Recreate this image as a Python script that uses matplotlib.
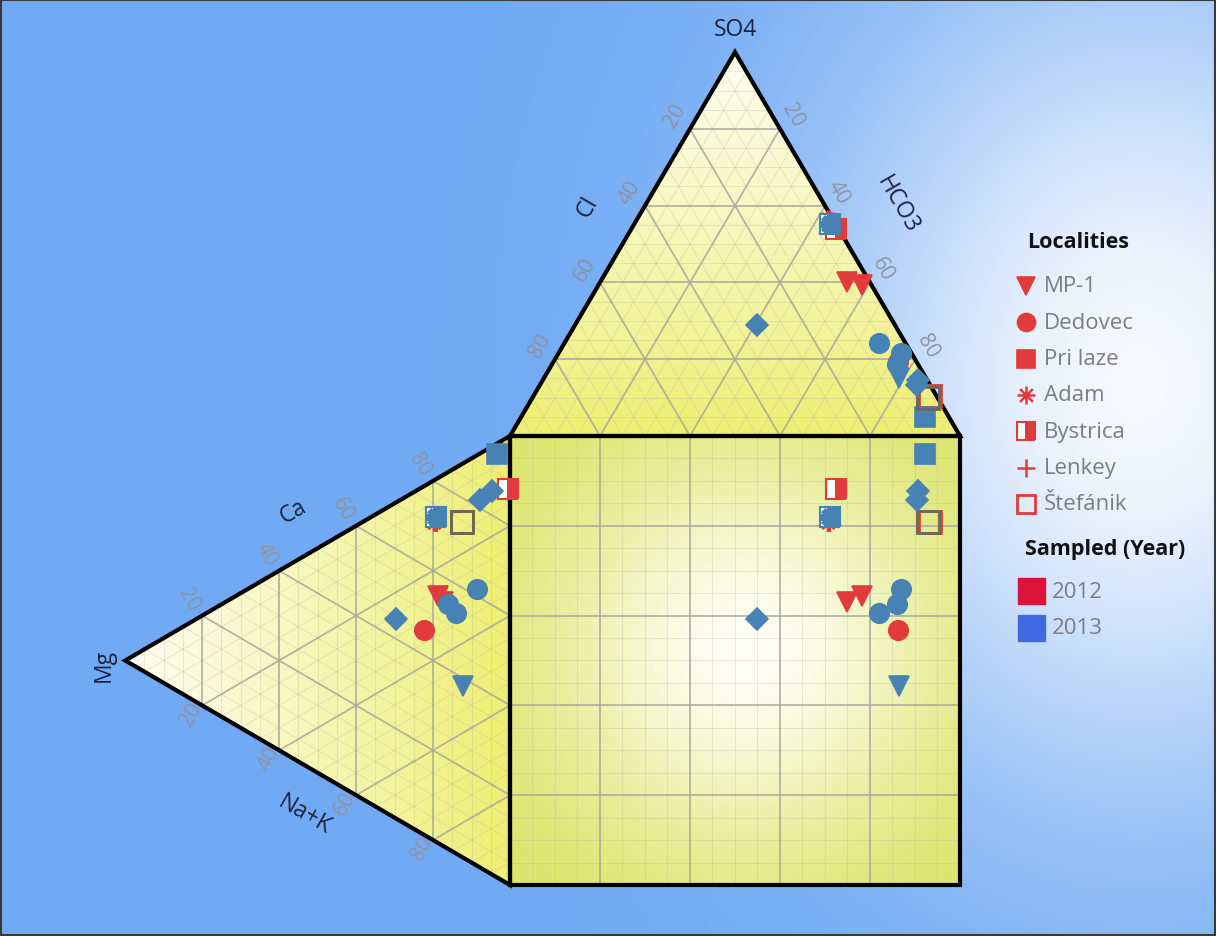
import numpy as np
import matplotlib
matplotlib.use("Agg")
import matplotlib.pyplot as plt
from matplotlib.patches import Polygon, Rectangle
from matplotlib.path import Path

plt.rcParams['font.family'] = ['Open Sans', 'DejaVu Sans']

# ---------------- sample data (meq %) ----------------
locality = ["MP-1", "MP-1", "Dedovec", "Adam", "Lenkey", "Bystrica", "Štefánik",
            "MP-1", "Dedovec", "Dedovec", "Dedovec", "Pri laze", "Bystrica", "Adam",
            "Lenkey", "Štefánik", "Other", "Other", "Other"]
year = [2012, 2012, 2012, 2012, 2012, 2012, 2012,
        2013, 2013, 2013, 2013, 2013, 2013, 2013, 2013, 2013, 2013, 2013, 2013]
so4 = [40.1, 39.4, 19.3, 56.6, 56.0, 53.8, 10.4,
       15.2, 21.6, 18.8, 24.2, 4.9, 55.3, 55.3, 55.3, 10.0, 14.7, 13.2, 28.8]
cl = [5.1, 2.1, 4.1, 1.0, 1.2, 0.7, 1.5,
      6.0, 2.3, 4.6, 5.9, 5.3, 1.3, 1.3, 1.3, 2.1, 2.0, 3.0, 30.7]
hco3 = [54.8, 58.5, 76.6, 42.4, 42.8, 45.5, 88.1,
        78.8, 76.1, 76.6, 69.9, 89.8, 43.4, 43.4, 43.4, 87.9, 83.3, 83.8, 40.5]
ca = [54.3, 55.0, 45.6, 70.9, 71.2, 87.9, 74.5,
      38.3, 61.6, 54.5, 53.5, 94.3, 72.4, 72.4, 72.4, 74.5, 85.5, 81.9, 44.5]
mg = [17.4, 18.7, 22.3, 19.8, 19.2, 0.5, 12.6,
      12.1, 8.7, 16.2, 14.1, 3.3, 19.2, 19.2, 19.2, 12.6, 4.6, 7.7, 29.5]
nak = [28.3, 26.3, 32.1, 9.3, 9.6, 11.6, 12.9,
       49.6, 29.7, 29.3, 32.4, 2.4, 8.4, 8.4, 8.4, 12.9, 9.9, 10.4, 26.0]

legend_localities = ["MP-1", "Dedovec", "Pri laze", "Adam", "Bystrica", "Lenkey", "Štefánik"]
years = [2012, 2013]
year_swatch = {2012: "#DC143C", 2013: "#4169E1"}

RED = "#E23B3B"
BLUE = "#4682B4"
OPEN_2013 = "#6a6956"
year_color = {2012: RED, 2013: BLUE}

H = 0.855  # triangle height relative to side

# 8-armed asterisk marker
_ang = np.deg2rad([0, 45, 90, 135])
_verts, _codes = [], []
for a in _ang:
    _verts += [(-np.cos(a), -np.sin(a)), (np.cos(a), np.sin(a))]
    _codes += [Path.MOVETO, Path.LINETO]
ASTERISK = Path(_verts, _codes)

styles = {
    "MP-1": dict(marker="v", ms=14),
    "Dedovec": dict(marker="o", ms=14),
    "Pri laze": dict(marker="s", ms=15),
    "Adam": dict(marker=ASTERISK, ms=13, mew=2.5, fillstyle="none"),
    "Bystrica": dict(marker="s", ms=15, fillstyle="right", mfcalt="white", mew=1.5),
    "Lenkey": dict(marker="+", ms=15, mew=3),
    "Štefánik": dict(marker="s", ms=16, fillstyle="none", mew=2),
    "Other": dict(marker="D", ms=11),
}
# 2013 overlays at the Bystrica spot are drawn heavier
heavy_2013 = {"Adam": dict(ms=15, mew=4.5), "Lenkey": dict(ms=15, mew=5)}


def anion_xy(s, c, h):
    s, c, h = map(np.asarray, (s, c, h))
    tot = s + c + h
    s, h = s / tot * 100, h / tot * 100
    return 0.5 * s + h, 100 + H * s


def cation_xy(a, m, n):
    a, m, n = map(np.asarray, (a, m, n))
    tot = a + m + n
    a, m = a / tot * 100, m / tot * 100
    return -H * m, 0.5 * m + a


# ---------------- figure ----------------
W, Hpx = 1216, 937
fig = plt.figure(figsize=(W / 100, Hpx / 100), dpi=100)
ax = fig.add_axes([0, 0, 1, 1])
XL = (-113.33, 156.89)
YL = (-11.36, 197.33)
ax.set_xlim(*XL)
ax.set_ylim(*YL)
ax.axis("off")

# background: blue with a pale glow on the right
gx = np.linspace(*XL, 600)
gy = np.linspace(*YL, 460)
GX, GY = np.meshgrid(gx, gy)
blue = np.array([112, 170, 244]) / 255
white = np.array([246, 249, 254]) / 255
d2 = ((GX - 140) / 74) ** 2 + ((GY - 112) / 95) ** 2
w = np.exp(-d2)[..., None]
bg = blue * (1 - w) + white * w
ax.imshow(bg, extent=(*XL, *YL), origin="lower", zorder=0, aspect="auto")

# triangle and square outlines
top_tri = np.array([[0, 100], [100, 100], [50, 100 + 100 * H]])
left_tri = np.array([[0, 100], [0, 0], [-100 * H, 50]])
square = np.array([[0, 0], [100, 0], [100, 100], [0, 100]])

yellow = np.array([238, 238, 112]) / 255
pale = np.array([253, 253, 242]) / 255
edge_sq = np.array([218, 227, 98]) / 255

# top triangle fill: pale at apex, yellow at base
t = np.clip((GY - 100) / (100 * H), 0, 1)[..., None] ** 0.9
img = yellow * (1 - t) + pale * t
im = ax.imshow(img, extent=(*XL, *YL), origin="lower", zorder=1, aspect="auto")
im.set_clip_path(Polygon(top_tri, closed=True, transform=ax.transData))

# left triangle fill: pale at the Mg corner
t = np.clip(-GX / (100 * H), 0, 1)[..., None] ** 0.9
img = yellow * (1 - t) + pale * t
im = ax.imshow(img, extent=(*XL, *YL), origin="lower", zorder=1, aspect="auto")
im.set_clip_path(Polygon(left_tri, closed=True, transform=ax.transData))

# square fill: radial glow
r2 = ((GX - 53) ** 2 + (GY - 52) ** 2) / 44 ** 2
t = np.exp(-r2)[..., None]
img = edge_sq * (1 - t) + np.array([255, 255, 246]) / 255 * t
im = ax.imshow(img, extent=(*XL, *YL), origin="lower", zorder=1, aspect="auto")
im.set_clip_path(Polygon(square, closed=True, transform=ax.transData))

MAJ = dict(color="#a9a99a", lw=1.3, zorder=2, alpha=0.85)
MIN = dict(color="#b8b8a0", lw=0.6, zorder=2, alpha=0.35)


def tri_lines(conv, step, kw):
    for v in np.arange(step, 100, step):
        if kw is MIN and v % 20 == 0:
            continue
        for a, b in [((v, 100 - v, 0), (v, 0, 100 - v)),
                     ((0, v, 100 - v), (100 - v, v, 0)),
                     ((0, 100 - v, v), (100 - v, 0, v))]:
            x1, y1 = conv(*a)
            x2, y2 = conv(*b)
            ax.plot([x1, x2], [y1, y2], **kw)


# anion triangle grid: (SO4, Cl, HCO3)
tri_lines(anion_xy, 5, MIN)
tri_lines(anion_xy, 20, MAJ)
# cation triangle grid
tri_lines(lambda m, a, n: cation_xy(a, m, n), 5, MIN)
tri_lines(lambda m, a, n: cation_xy(a, m, n), 20, MAJ)

for v in np.arange(5, 100, 5):
    kw = MAJ if v % 20 == 0 else MIN
    ax.plot([v, v], [0, 100], **kw)
    ax.plot([0, 100], [v, v], **kw)

for poly in (top_tri, left_tri, square):
    ax.add_patch(Polygon(poly, closed=True, fill=False, ec="black", lw=3, zorder=3,
                         joinstyle="miter"))

# ---------------- axis titles and tick labels ----------------
LBL = dict(color="#1c2240", fontsize=16.5, ha="center", va="center", zorder=6)
ax.text(50, 190.6, "SO4", **LBL)
ax.text(17.3, 151.2, "Cl", rotation=60, **LBL)
ax.text(86.0, 151.7, "HCO3", rotation=-60, **LBL)
ax.text(-48.2, 83.3, "Ca", rotation=30, **LBL)
ax.text(-45.6, 15.8, "Na+K", rotation=-30, **LBL)
ax.text(-90.2, 49.2, "Mg", rotation=90, **LBL)

TK = dict(color="#8f93a3", fontsize=15, ha="center", va="center", zorder=6)
apex = top_tri[2]
mgv = left_tri[2]
for v in (20, 40, 60, 80):
    f = v / 100
    # Cl along left edge of the anion triangle
    px, py = apex + f * (top_tri[0] - apex)
    ax.text(px - 3.3, py + 3.1, str(v), rotation=60, **TK)
    # HCO3 along right edge
    px, py = apex + f * (top_tri[1] - apex)
    ax.text(px + 2.9, py + 3.1, str(v), rotation=-60, **TK)
    # Ca along upper edge of the cation triangle
    px, py = mgv + f * (left_tri[0] - mgv)
    ax.text(px - 2.9, py + 3.8, str(v), rotation=-60, **TK)
    # Na+K along lower edge
    px, py = mgv + f * (left_tri[1] - mgv)
    ax.text(px - 2.4, py - 1.8, str(v), rotation=60, **TK)

# ---------------- data points ----------------
ax_x, ax_y = anion_xy(so4, cl, hco3)
cx, cy = cation_xy(ca, mg, nak)
for i in range(len(locality)):
    st = dict(styles[locality[i]])
    col = year_color[year[i]]
    if year[i] == 2013:
        if locality[i] == "Štefánik":
            col = OPEN_2013
        st.update(heavy_2013.get(locality[i], {}))
    st.setdefault("mew", 1.2)
    mfcalt = st.pop("mfcalt", None)
    extra = dict(markerfacecoloralt=mfcalt) if mfcalt else {}
    for x, y in ((ax_x[i], ax_y[i]), (cx[i], cy[i]), (ax_x[i], cy[i])):
        ax.plot([x], [y], linestyle="none", color=col, mec=col, zorder=5 + 0.01 * i,
                clip_on=False, **st, **extra)

# ---------------- legend ----------------
def fx(px):
    return px / W


def fy(py):
    return 1 - py / Hpx


fig.text(fx(1027), fy(243), "Localities", fontsize=15.5, fontweight="bold",
         color="#111111", ha="left", va="center")
for k, name in enumerate(legend_localities):
    yy = fy(287 + 36.3 * k)
    st = dict(styles[name])
    mfcalt = st.pop("mfcalt", None)
    extra = dict(markerfacecoloralt=mfcalt) if mfcalt else {}
    st.setdefault("mew", 1.2)
    st["ms"] = min(st["ms"], 13)
    if name in ("Adam", "Lenkey"):
        st["mew"] = 1.8
    ax.plot([fx(1026)], [yy], transform=fig.transFigure, linestyle="none", color=RED,
            mec=RED, clip_on=False, zorder=7, **st, **extra)
    fig.text(fx(1044), yy, name, fontsize=16, color="#7c7c86", ha="left", va="center")

fig.text(fx(1025), fy(550), "Sampled (Year)", fontsize=15.5, fontweight="bold",
         color="#111111", ha="left", va="center")
for k, yv in enumerate(years):
    yc = 592 + 37 * k
    fig.patches.append(Rectangle((fx(1018), fy(yc + 13)), 27 / W, 26 / Hpx,
                                 transform=fig.transFigure, color=year_swatch[yv],
                                 zorder=7))
    fig.text(fx(1052), fy(yc), str(yv), fontsize=16, color="#7c7c86",
             ha="left", va="center")

fig.patches.append(Rectangle((0.001, 0.001), 0.998, 0.998, transform=fig.transFigure,
                             fill=False, ec="#3a3a3a", lw=1.5, zorder=10))

fig.savefig("out.png", dpi=100)
